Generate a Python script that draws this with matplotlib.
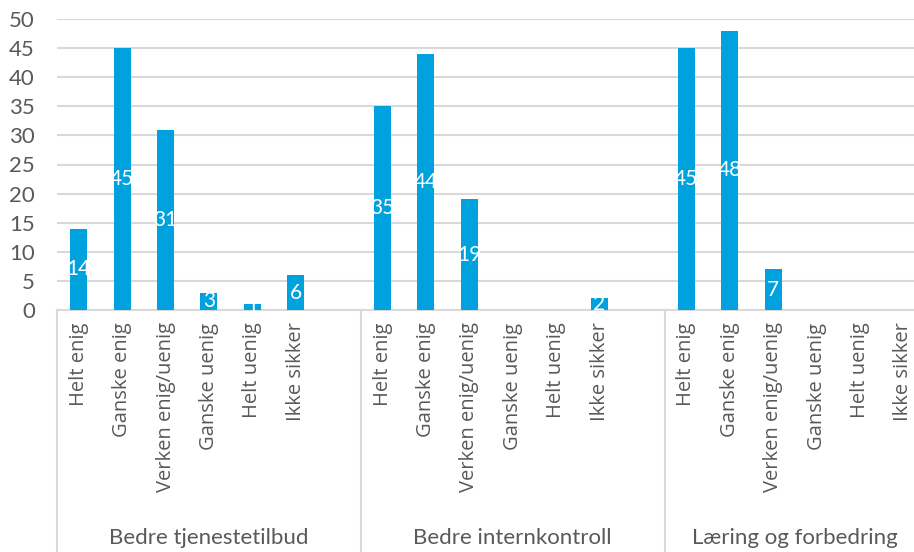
import matplotlib
matplotlib.use("Agg")
import matplotlib.pyplot as plt
from matplotlib.transforms import blended_transform_factory

# Survey answers per area
groups = ["Bedre tjenestetilbud", "Bedre internkontroll", "Læring og forbedring"]
categories = ["Helt enig", "Ganske enig", "Verken enig/uenig",
              "Ganske uenig", "Helt uenig", "Ikke sikker"]
tjenestetilbud = [14, 45, 31, 3, 1, 6]
internkontroll = [35, 44, 19, 0, 0, 2]
laering = [45, 48, 7, 0, 0, 0]
series = [tjenestetilbud, internkontroll, laering]
yticks = [0, 5, 10, 15, 20, 25, 30, 35, 40, 45, 50]

BAR = "#00A2DE"
GRID = "#D9D9D9"
TXT = "#595959"
FONT = ["Lato", "DejaVu Sans"]

W, H = 914, 552
fig = plt.figure(figsize=(W / 100, H / 100), dpi=100)
left, right = 57, 914
top, bottom = 19, 310
ax = fig.add_axes([left / W, 1 - bottom / H, (right - left) / W, (bottom - top) / H])

slot = 7  # six categories plus a spacer per group
positions, values, labels = [], [], []
for g, vals in enumerate(series):
    for i, v in enumerate(vals):
        positions.append(g * slot + i + 0.5)
        values.append(v)
        labels.append(categories[i])

bars = ax.bar(positions, values, width=0.39, color=BAR, zorder=3)
for b, v in zip(bars, values):
    if v > 0:
        ax.text(b.get_x() + b.get_width() / 2, v / 2, str(v), color="white",
                ha="center", va="center", fontsize=15, family=FONT, zorder=4)

ax.set_xlim(0, (right - left) / 43.4)
ax.set_ylim(0, 50)
ax.set_yticks(yticks)
ax.yaxis.grid(True, color=GRID, linewidth=1.5, zorder=0)
ax.set_axisbelow(True)
for s in ["left", "right", "top"]:
    ax.spines[s].set_visible(False)
ax.spines["bottom"].set_color(GRID)
ax.spines["bottom"].set_linewidth(1.5)
ax.tick_params(axis="y", length=0, pad=16, labelsize=16, labelcolor=TXT)
for t in ax.get_yticklabels():
    t.set_family(FONT)

ax.set_xticks(positions)
ax.set_xticklabels(labels, rotation=90, family=["Open Sans", "DejaVu Sans"],
                   fontsize=14.5, color=TXT, va="top", ha="center")
ax.tick_params(axis="x", length=0, pad=9)

# group separators and group names below the category labels
trans = blended_transform_factory(ax.transData, fig.transFigure)
y_axis_fig = 1 - bottom / H
for g in range(len(groups)):
    x0 = g * slot
    ax.plot([x0, x0], [y_axis_fig, 0], transform=trans, color=GRID,
            linewidth=1.5, clip_on=False)
    ax.text(x0 + 3.5 if g < 2 else x0 + 3.0, 1 - 538 / H, groups[g], transform=trans,
            ha="center", va="center", fontsize=16, color=TXT, family=FONT)

fig.savefig("out.png", dpi=100)
